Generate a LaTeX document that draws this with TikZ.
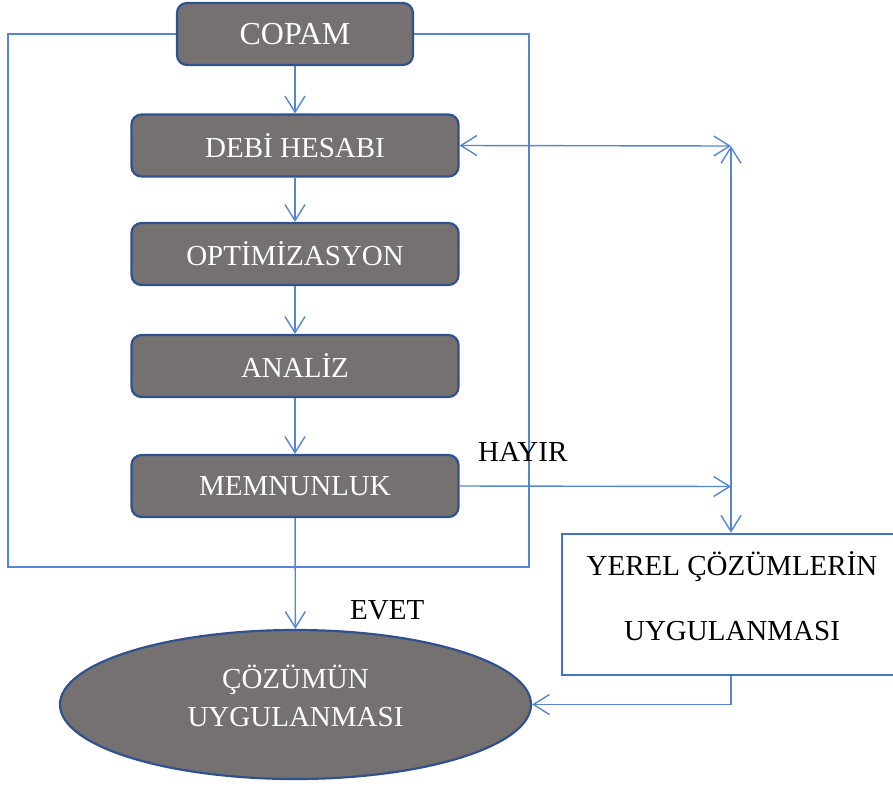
\documentclass[tikz,border=0pt]{standalone}
\usepackage{fontspec}
\setmainfont{Liberation Serif}
\usetikzlibrary{arrows.meta,shapes.geometric}
\definecolor{boxfill}{RGB}{118,113,113}
\definecolor{boxline}{RGB}{47,82,143}
\definecolor{conline}{RGB}{86,133,214}
\definecolor{yerline}{RGB}{68,114,196}
\tikzset{
  stepbox/.style={draw=boxline, line width=2.2pt, fill=boxfill, rounded corners=10pt,
    minimum width=327pt, minimum height=62pt, inner sep=0pt, text=white,
    font=\fontsize{29}{33}\selectfont},
  conn/.style={draw=conline, line width=1.4pt, -{Straight Barb[length=16pt,width=20pt,line width=1.4pt]}},
  bconn/.style={draw=conline, line width=1.4pt, {Straight Barb[length=16pt,width=20pt,line width=1.4pt]}-{Straight Barb[length=16pt,width=20pt,line width=1.4pt]}},
  plain/.style={draw=conline, line width=1.4pt},
  lbl/.style={inner sep=0pt, font=\fontsize{29}{33}\selectfont}
}
\begin{document}
\begin{tikzpicture}[x=1pt,y=-1pt]
\useasboundingbox (0,0) rectangle (893,785);
\clip (0,0) rectangle (893,785);
% frame
\coordinate (fbl) at (8,567);
\coordinate (fbr) at (529,567);
\node[stepbox, minimum width=236pt, font=\fontsize{32}{36}\selectfont] (copam) at (295,34) {COPAM};
\draw[plain] (copam.west) -| (fbl) -- (fbr) |- (copam.east);
\node[stepbox] (debi) at (295,145.5) {DEBİ HESABI};
\node[stepbox] (opt) at (295,254) {OPTİMİZASYON};
\node[stepbox] (analiz) at (295,366) {ANALİZ};
\node[stepbox] (memn) at (295,486) {MEMNUNLUK};
\node[ellipse, draw=boxline, line width=2.2pt, fill=boxfill, minimum width=471pt, minimum height=149pt, inner sep=0pt] (cozum) at (295.5,704.5) {};
\node[lbl, text=white, align=center] (cozumtxt) at (295.5,696) {ÇÖZÜMÜN\\[5pt]UYGULANMASI};
\node[draw=yerline, line width=2.6pt, fill=white, minimum width=338pt, minimum height=141pt, inner sep=0pt] (yerel) at (731,604.5) {};
\node[lbl, align=center] (yereltxt) at (732,596) {YEREL ÇÖZÜMLERİN\\[32pt]UYGULANMASI};
\coordinate (c1) at (731,146);
\coordinate (c2) at (731,486.5);
\draw[conn] (copam) -- (debi);
\draw[conn] (debi) -- (opt);
\draw[conn] (opt) -- (analiz);
\draw[conn] (analiz) -- (memn);
\draw[conn] (memn) -- (cozum);
\draw[bconn] (debi.east) -- (c1);
\draw[bconn] (c1) -- (yerel.north);
\draw[conn] (memn.east) -- (c2);
\draw[conn] (yerel.south) |- (cozum.east);
\node[lbl, anchor=base west] (hayir) at (478,461) {HAYIR};
\node[lbl, anchor=base west] (evet) at (350,619) {EVET};
\end{tikzpicture}
\end{document}
